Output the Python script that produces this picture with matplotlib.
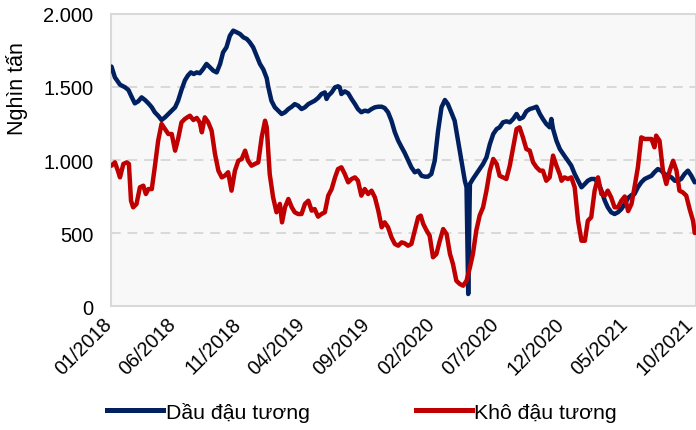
import matplotlib
matplotlib.use("Agg")
import matplotlib.pyplot as plt
import matplotlib.transforms as mtransforms
import pandas as pd
from matplotlib.lines import Line2D

plt.rcParams['font.family'] = ['Liberation Sans', 'DejaVu Sans']

base_date = pd.Timestamp("2018-01-01")

# Dầu đậu tương (soybean oil) - days since base_date and values (nghìn tấn)
oil_days = [0, 8, 20, 32, 40, 48, 55, 63, 71, 79, 87, 95, 102, 110, 118, 126, 134, 142, 150, 157,
            165, 173, 180, 187, 194, 201, 208, 216, 224, 232, 240, 248, 256, 263, 271, 279, 287, 295, 303, 311,
            319, 326, 334, 342, 350, 358, 366, 369, 377, 385, 393, 401, 409, 417, 425, 432, 440, 448, 456, 464,
            472, 479, 487, 495, 503, 507, 511, 519, 527, 534, 538, 542, 550, 558, 566, 574, 581, 589, 597, 605,
            613, 621, 629, 637, 644, 652, 660, 668, 676, 684, 691, 699, 707, 715, 723, 731, 739, 746, 754, 762,
            770, 778, 786, 793, 801, 809, 817, 825, 833, 837, 841, 845, 852, 860, 868, 876, 884, 892, 900, 908,
            915, 923, 931, 939, 947, 955, 962, 970, 978, 986, 994, 1002, 1010, 1017, 1025, 1033, 1037, 1041, 1049, 1057,
            1064, 1071, 1076, 1084, 1092, 1100, 1108, 1116, 1123, 1131, 1139, 1147, 1155, 1163, 1170, 1178, 1186, 1194, 1202, 1210,
            1218, 1226, 1233, 1241, 1249, 1257, 1265, 1273, 1280, 1288, 1296, 1304, 1312, 1320, 1328, 1335, 1343, 1351, 1359, 1367,
            1375]
oil_values = [1640, 1566, 1516, 1498, 1479, 1429, 1388, 1402, 1429, 1411, 1388, 1361, 1327, 1303, 1274, 1292, 1315, 1338, 1361, 1406,
              1480, 1545, 1578, 1600, 1589, 1600, 1594, 1623, 1658, 1635, 1612, 1600, 1658, 1737, 1772, 1851, 1886, 1875, 1863, 1840,
              1829, 1806, 1772, 1715, 1658, 1620, 1560, 1509, 1406, 1361, 1338, 1315, 1327, 1349, 1365, 1383, 1372, 1349, 1361, 1383,
              1395, 1406, 1425, 1452, 1463, 1418, 1440, 1463, 1498, 1505, 1498, 1452, 1470, 1457, 1418, 1383, 1349, 1327, 1338, 1333,
              1349, 1361, 1365, 1365, 1356, 1327, 1269, 1190, 1132, 1087, 1050, 1000, 950, 916, 927, 892, 886, 886, 904, 995,
              1201, 1361, 1411, 1383, 1327, 1269, 1132, 995, 858, 813, 82, 836, 870, 904, 938, 973, 1018, 1109, 1178, 1212,
              1224, 1258, 1265, 1258, 1281, 1315, 1281, 1292, 1333, 1349, 1356, 1365, 1315, 1281, 1247, 1224, 1281, 1212, 1132, 1075,
              1045, 1015, 995, 961, 904, 858, 813, 836, 858, 870, 870, 847, 790, 721, 676, 642, 630, 642, 664, 699,
              740, 760, 767, 813, 847, 870, 881, 892, 916, 938, 927, 904, 892, 881, 858, 858, 870, 904, 927, 892,
              847]

# Khô đậu tương (soybean meal)
meal_days = [0, 8, 15, 20, 28, 36, 41, 46, 51, 59, 67, 75, 81, 87, 95, 102, 110, 118, 126, 134,
             142, 150, 157, 165, 173, 180, 185, 193, 201, 208, 213, 220, 228, 236, 244, 252, 260, 267, 275, 283,
             291, 299, 307, 315, 322, 330, 338, 346, 354, 362, 366, 373, 381, 389, 397, 402, 409, 417, 425, 432,
             440, 448, 456, 464, 472, 479, 487, 495, 503, 511, 519, 527, 534, 542, 550, 558, 566, 574, 581, 589,
             597, 605, 613, 621, 629, 637, 644, 652, 660, 668, 676, 684, 691, 699, 707, 715, 723, 729, 735, 743,
             750, 758, 766, 774, 782, 790, 798, 805, 813, 821, 829, 837, 845, 852, 860, 868, 876, 884, 892, 900,
             908, 915, 923, 931, 939, 947, 955, 962, 970, 978, 986, 994, 1002, 1010, 1017, 1025, 1033, 1041, 1049, 1057,
             1061, 1068, 1076, 1084, 1092, 1100, 1108, 1116, 1123, 1131, 1139, 1147, 1155, 1163, 1170, 1178, 1186, 1194, 1202, 1210,
             1218, 1226, 1233, 1241, 1249, 1257, 1265, 1273, 1280, 1284, 1292, 1300, 1308, 1316, 1324, 1332, 1339, 1347, 1355, 1363,
             1371, 1375]
meal_values = [961, 984, 927, 881, 973, 984, 973, 721, 676, 699, 813, 824, 767, 801, 801, 950, 1132, 1247, 1212, 1178,
               1178, 1064, 1144, 1258, 1281, 1295, 1303, 1274, 1288, 1258, 1190, 1292, 1258, 1201, 1041, 927, 881, 892, 916, 790,
               927, 995, 1007, 1064, 995, 961, 973, 984, 1155, 1269, 1224, 904, 744, 642, 699, 573, 676, 733, 676, 642,
               630, 630, 699, 721, 653, 664, 612, 630, 642, 756, 801, 881, 938, 950, 904, 847, 870, 881, 858, 756,
               801, 767, 790, 744, 653, 539, 573, 539, 471, 425, 413, 436, 430, 413, 425, 516, 608, 619, 562, 516,
               482, 334, 356, 447, 527, 493, 356, 288, 173, 151, 139, 173, 265, 356, 516, 620, 676, 790, 927, 1007,
               973, 892, 881, 870, 961, 1087, 1212, 1224, 1155, 1075, 1064, 984, 950, 927, 927, 858, 881, 1030, 961, 900,
               858, 881, 870, 881, 813, 584, 447, 447, 584, 608, 790, 881, 767, 756, 790, 744, 676, 676, 721, 750,
               650, 699, 813, 950, 1155, 1144, 1144, 1144, 1087, 1167, 1132, 927, 836, 927, 995, 927, 790, 778, 756, 664,
               584, 500]

x_tick_labels = ["01/2018", "06/2018", "11/2018", "04/2019", "09/2019",
                 "02/2020", "07/2020", "12/2020", "05/2021", "10/2021"]
y_ticks = [0, 500, 1000, 1500, 2000]
y_tick_labels = ["0", "500", "1.000", "1.500", "2.000"]
series_names = ["Dầu đậu tương", "Khô đậu tương"]
y_label = "Nghìn tấn"

oil_dates = base_date + pd.to_timedelta(oil_days, unit="D")
meal_dates = base_date + pd.to_timedelta(meal_days, unit="D")
x_ticks = pd.to_datetime(x_tick_labels, format="%m/%Y")

BLUE = "#002060"
RED = "#C00000"
GRID = "#D9D9D9"

fig = plt.figure(figsize=(6.96, 4.31), dpi=100)
ax = fig.add_axes([0.1602, 0.2877, 0.8398, 0.6775])
ax.set_facecolor("#F8F8F8")

for v in y_ticks[1:-1]:
    ax.axhline(v, color=GRID, lw=1.4, ls=(0, (5, 3.5)), zorder=1)

ax.plot(oil_dates, oil_values, color=BLUE, lw=3.2, solid_joinstyle="round", solid_capstyle="round", zorder=3)
ax.plot(meal_dates, meal_values, color=RED, lw=3.2, solid_joinstyle="round", solid_capstyle="round", zorder=4)

ax.set_ylim(0, 2000)
ax.set_xlim(base_date, base_date + pd.Timedelta(days=1378))
ax.set_yticks(y_ticks)
ax.set_yticklabels(y_tick_labels)
ax.set_xticks(x_ticks)
ax.set_xticklabels(x_tick_labels, rotation=45, ha="right", rotation_mode="anchor")
ax.tick_params(axis="y", length=0, labelsize=14.5, colors="black", pad=13)
ax.tick_params(axis="x", length=0, labelsize=14.2, colors="black", pad=6)

shift = mtransforms.ScaledTranslation(-9 / 100, 0, fig.dpi_scale_trans)
for lab in ax.get_xticklabels():
    lab.set_transform(lab.get_transform() + shift)

for s in ax.spines.values():
    s.set_color(GRID)
    s.set_linewidth(1.5)

ax.set_ylabel(y_label, fontsize=15.5)
ax.yaxis.set_label_coords(-0.143, 0.747)

handles = [Line2D([0], [0], color=BLUE, lw=3.6), Line2D([0], [0], color=RED, lw=3.6)]
fig.legend(handles, series_names, loc="center", bbox_to_anchor=(0.52, 0.042), ncol=2,
           frameon=False, fontsize=15.3, handlelength=2.65, handletextpad=0.1, columnspacing=5.0)

fig.savefig("out.png", dpi=100)
